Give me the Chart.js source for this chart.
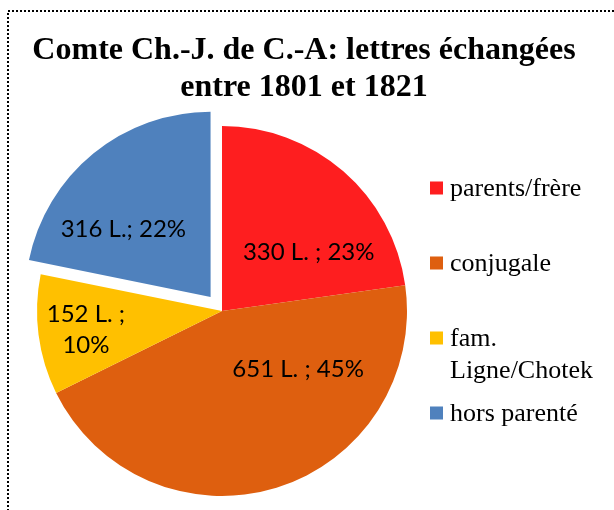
<!DOCTYPE html>
<html>
<head>
<meta charset="utf-8">
<script src="https://cdn.jsdelivr.net/npm/chart.js@4/dist/chart.umd.min.js"></script>
<style>
  html, body { margin: 0; padding: 0; background: #fff; }
  #wrap { width: 614px; height: 510px; }
</style>
</head>
<body>
<div id="wrap"><canvas id="c" width="614" height="510"></canvas></div>
<script>
// Letters exchanged by the count, grouped by correspondent
const titleLines = ['Comte Ch.-J. de C.-A: lettres échangées', 'entre 1801 et 1821'];
const categories = ['parents/frère', 'conjugale', 'fam. Ligne/Chotek', 'hors parenté'];
const letters = [330, 651, 152, 316];
const colors = ['#FE1E1F', '#DE5F0F', '#FFC000', '#4F81BD'];
const explode = [0, 0, 0, 72];
const labelSeparators = [' ; ', ' ; ', ' ;\n', '; '];
// where each value label sits inside its slice: [fraction of sweep, fraction of radius]
const labelAnchors = [[0.68, 0.567], [0.278, 0.515], [0.495, 0.742], [0.363, 0.696]];

const total = letters.reduce((a, b) => a + b, 0);
const labelTexts = letters.map((v, i) => v + ' L.' + labelSeparators[i] + Math.round(v / total * 100) + '%');

const SERIF = "'Liberation Serif', 'Times New Roman', serif";
const SANS = "Lato, 'Open Sans', sans-serif";

const framePlugin = {
  id: 'frame',
  beforeDraw(chart) {
    const ctx = chart.ctx;
    ctx.save();
    ctx.fillStyle = '#fff';
    ctx.fillRect(0, 0, chart.width, chart.height);
    ctx.setLineDash([2, 2]);
    ctx.lineWidth = 2;
    ctx.strokeStyle = '#000';
    ctx.strokeRect(8, 11, 800, 800);
    ctx.restore();
  }
};

const headingPlugin = {
  id: 'heading',
  afterDraw(chart) {
    const ctx = chart.ctx;
    ctx.save();
    ctx.font = 'bold 32px ' + SERIF;
    ctx.fillStyle = '#000';
    ctx.textAlign = 'center';
    ctx.textBaseline = 'alphabetic';
    titleLines.forEach((line, i) => ctx.fillText(line, 304, 59 + i * 37));
    ctx.restore();
  }
};

const valueLabelPlugin = {
  id: 'valueLabels',
  afterDatasetsDraw(chart) {
    const ctx = chart.ctx;
    const meta = chart.getDatasetMeta(0);
    const size = 24;
    ctx.save();
    ctx.font = size + 'px ' + SANS;
    ctx.fillStyle = '#000';
    ctx.textAlign = 'center';
    ctx.textBaseline = 'alphabetic';
    meta.data.forEach((arc, i) => {
      const p = arc.getProps(['x', 'y', 'startAngle', 'endAngle', 'outerRadius'], true);
      const [fa, fr] = labelAnchors[i];
      const a = p.startAngle + (p.endAngle - p.startAngle) * fa;
      const cx = p.x + Math.cos(a) * p.outerRadius * fr;
      const cy = p.y + Math.sin(a) * p.outerRadius * fr;
      const lines = labelTexts[i].split('\n');
      const lh = 31.7;
      const top = cy - (lines.length - 1) * lh / 2;
      lines.forEach((ln, k) => ctx.fillText(ln, cx, top + k * lh + size * 0.35));
    });
    ctx.restore();
  }
};

const sideLegendPlugin = {
  id: 'sideLegend',
  afterDraw(chart) {
    const ctx = chart.ctx;
    const cfg = { x: 430, y: 188, step: 75, box: 13, textX: 450, maxW: 155, lineH: 32 };
    ctx.save();
    ctx.font = '26px ' + SERIF;
    ctx.textBaseline = 'alphabetic';
    ctx.textAlign = 'left';
    chart.data.labels.forEach((label, i) => {
      const cy = cfg.y + i * cfg.step;
      ctx.fillStyle = chart.data.datasets[0].backgroundColor[i];
      ctx.fillRect(cfg.x, cy - cfg.box / 2, cfg.box, cfg.box);
      // wrap words to the legend width
      const words = label.split(' ');
      const lines = [];
      let cur = '';
      words.forEach(w => {
        const test = cur ? cur + ' ' + w : w;
        if (cur && ctx.measureText(test).width > cfg.maxW) { lines.push(cur); cur = w; }
        else cur = test;
      });
      if (cur) lines.push(cur);
      ctx.fillStyle = '#000';
      lines.forEach((ln, k) => ctx.fillText(ln, cfg.textX, cy + 8.3 + k * cfg.lineH));
    });
    ctx.restore();
  }
};

new Chart(document.getElementById('c'), {
  type: 'pie',
  data: {
    labels: categories,
    datasets: [{
      data: letters,
      backgroundColor: colors,
      borderWidth: 0,
      offset: explode
    }]
  },
  options: {
    responsive: false,
    animation: false,
    events: [],
    radius: 185,
    layout: { padding: { left: 37, right: 207, top: 126, bottom: 14 } },
    plugins: {
      legend: { display: false },
      title: { display: false },
      tooltip: { enabled: false }
    }
  },
  plugins: [framePlugin, headingPlugin, valueLabelPlugin, sideLegendPlugin]
});
</script>
</body>
</html>
